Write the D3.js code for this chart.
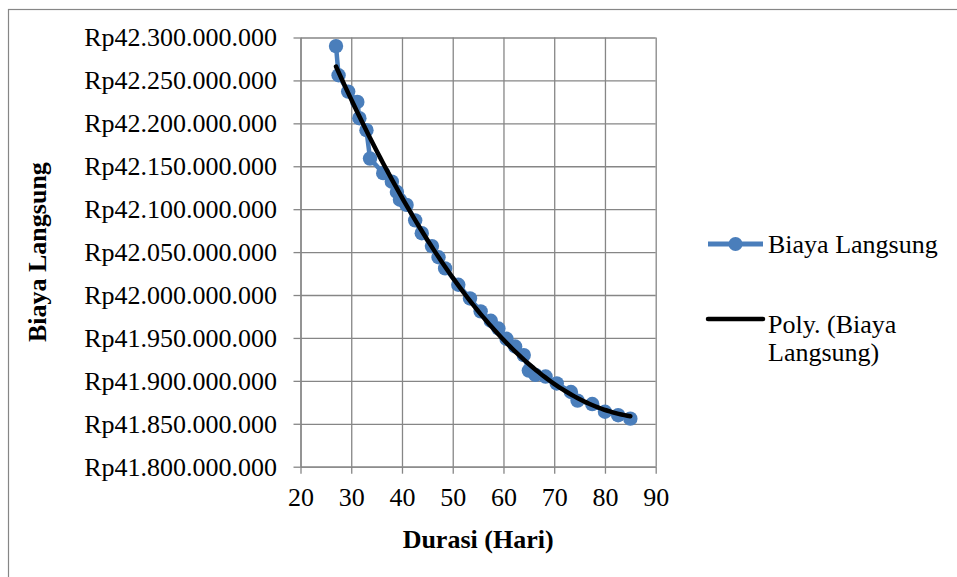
<!DOCTYPE html>
<html><head><meta charset="utf-8">
<script src="https://cdn.jsdelivr.net/npm/d3@7"></script>
<style>
html,body{margin:0;padding:0;background:#fff;}
svg{display:block;font-family:"Liberation Serif","Times New Roman",serif;}
</style></head>
<body>
<svg id="chart" width="957" height="577"></svg>
<script>
// ---- data ----
const durasi = [27, 27.5, 29.4, 31.2, 31.6, 33.0, 33.7, 36.3, 38.0, 39.0, 39.6, 40.9, 42.6, 43.9, 45.9, 47.2, 48.5, 51.1, 53.4, 55.5, 57.5, 59.0, 60.6, 62.3, 64.0, 65.0, 66.3, 68.3, 70.5, 73.3, 74.6, 77.5, 80.0, 82.6, 85.0];
const biaya = [42290000000, 42256000000, 42237000000, 42225000000, 42206000000, 42192000000, 42159000000, 42142000000, 42132000000, 42120000000, 42111000000, 42105000000, 42087000000, 42072000000, 42057000000, 42044000000, 42031000000, 42012000000, 41996000000, 41981000000, 41970000000, 41961000000, 41949000000, 41940000000, 41930000000, 41912000000, 41907000000, 41905000000, 41897000000, 41887000000, 41877000000, 41873000000, 41864000000, 41860000000, 41856000000];
const xTicks = [20, 30, 40, 50, 60, 70, 80, 90];
const yTicks = [41800000000, 41850000000, 41900000000, 41950000000, 42000000000, 42050000000, 42100000000, 42150000000, 42200000000, 42250000000, 42300000000];
const seriesName = "Biaya Langsung";
const trendName = ["Poly. (Biaya", "Langsung)"];
const xTitle = "Durasi (Hari)";
const yTitle = "Biaya Langsung";

// ---- layout ----
const svg = d3.select("#chart");
const L = 300.5, R = 655.7, T = 37.5, B = 466.7;
const grid = "#868686", blue = "#4A7EBB";
const fs = 26;

const x = d3.scaleLinear().domain([20, 90]).range([L, R]);
const y = d3.scaleLinear().domain([41800000000, 42300000000]).range([B, T]);

const loc = d3.formatLocale({decimal: ",", thousands: ".", grouping: [3], currency: ["Rp", ""]});
const fmt = loc.format("$,.0f");

// outer border (only left/top visible in frame)
svg.append("rect").attr("x", 8.5).attr("y", 9.5).attr("width", 1100).attr("height", 800)
  .attr("fill", "none").attr("stroke", grid).attr("stroke-width", 1.2);

// gridlines
const gx = svg.append("g").attr("transform", `translate(0,${B})`)
  .call(d3.axisBottom(x).tickValues(xTicks).tickSize(-(B - T)).tickFormat(""));
const gy = svg.append("g").attr("transform", `translate(${L},0)`)
  .call(d3.axisLeft(y).tickValues(yTicks).tickSize(-(R - L)).tickFormat(""));
[gx, gy].forEach(g => { g.select(".domain").remove(); g.selectAll("line").attr("stroke", grid).attr("stroke-width", 1.3); });

// axes with labels
const ax = svg.append("g").attr("transform", `translate(0,${B})`)
  .call(d3.axisBottom(x).tickValues(xTicks).tickSize(7).tickSizeOuter(0).tickPadding(14).tickFormat(d3.format("d")));
const ay = svg.append("g").attr("transform", `translate(${L},0)`)
  .call(d3.axisLeft(y).tickValues(yTicks).tickSize(7).tickSizeOuter(0).tickPadding(16.5).tickFormat(fmt));
[ax, ay].forEach(g => {
  g.select(".domain").attr("stroke", grid).attr("stroke-width", 1.3);
  g.selectAll("line").attr("stroke", grid).attr("stroke-width", 1.3);
  g.selectAll("text").attr("font-family", "Liberation Serif, Times New Roman, serif").attr("font-size", fs).attr("fill", "#000");
});

// axis titles
svg.append("text").attr("x", (L + R) / 2).attr("y", 548).attr("text-anchor", "middle")
  .attr("font-size", fs).attr("font-weight", "bold").text(xTitle);
svg.append("text").attr("transform", `translate(46,${(T + B) / 2}) rotate(-90)`).attr("text-anchor", "middle")
  .attr("font-size", fs).attr("font-weight", "bold").text(yTitle);

// data series
const pts = durasi.map((d, i) => [d, biaya[i]]);
svg.append("path").datum(pts)
  .attr("d", d3.line().x(d => x(d[0])).y(d => y(d[1])))
  .attr("fill", "none").attr("stroke", blue).attr("stroke-width", 4.5).attr("stroke-linejoin", "round");
svg.append("g").selectAll("circle").data(pts).join("circle")
  .attr("cx", d => x(d[0])).attr("cy", d => y(d[1])).attr("r", 7.2).attr("fill", blue);

// polynomial (order 2) least-squares trendline computed from the series
function polyFit2(xs, ys) {
  const mx = d3.mean(xs);
  const u = xs.map(v => v - mx);
  const my = d3.mean(ys);
  const w = ys.map(v => v - my);
  let S = Array(5).fill(0), Ty = Array(3).fill(0);
  u.forEach((ui, i) => { for (let k = 0; k < 5; k++) S[k] += Math.pow(ui, k); for (let k = 0; k < 3; k++) Ty[k] += Math.pow(ui, k) * w[i]; });
  const A = [[S[0], S[1], S[2]], [S[1], S[2], S[3]], [S[2], S[3], S[4]]];
  const b = Ty.slice();
  for (let c = 0; c < 3; c++) {
    for (let r = c + 1; r < 3; r++) { const f = A[r][c] / A[c][c]; for (let k = c; k < 3; k++) A[r][k] -= f * A[c][k]; b[r] -= f * b[c]; }
  }
  const co = [0, 0, 0];
  for (let r = 2; r >= 0; r--) { let s = b[r]; for (let k = r + 1; k < 3; k++) s -= A[r][k] * co[k]; co[r] = s / A[r][r]; }
  return xv => { const t = xv - mx; return my + co[0] + co[1] * t + co[2] * t * t; };
}
const fit = polyFit2(durasi, biaya);
const x0 = d3.min(durasi), x1 = d3.max(durasi);
const trendPts = d3.range(0, 101).map(i => { const xv = x0 + (x1 - x0) * i / 100; return [xv, fit(xv)]; });
svg.append("path").datum(trendPts)
  .attr("d", d3.line().x(d => x(d[0])).y(d => y(d[1])))
  .attr("fill", "none").attr("stroke", "#000").attr("stroke-width", 4.5).attr("stroke-linecap", "round");

// legend
const lg = svg.append("g");
lg.append("line").attr("x1", 708).attr("x2", 763).attr("y1", 244).attr("y2", 244).attr("stroke", blue).attr("stroke-width", 5);
lg.append("circle").attr("cx", 735.5).attr("cy", 244).attr("r", 7).attr("fill", blue);
lg.append("text").attr("x", 768).attr("y", 253).attr("font-size", fs).text(seriesName);
lg.append("line").attr("x1", 708).attr("x2", 763).attr("y1", 319).attr("y2", 319).attr("stroke", "#000").attr("stroke-width", 4.5).attr("stroke-linecap", "round");
lg.append("text").attr("x", 768).attr("y", 333).attr("font-size", fs).text(trendName[0]);
lg.append("text").attr("x", 768).attr("y", 361).attr("font-size", fs).text(trendName[1]);
</script>
</body></html>
